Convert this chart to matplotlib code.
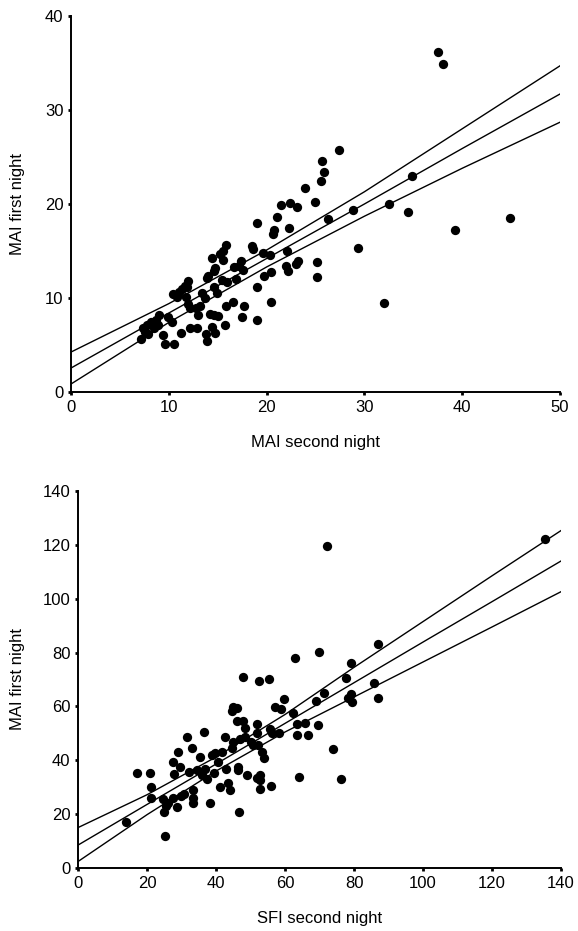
import matplotlib
matplotlib.use("Agg")
import matplotlib.pyplot as plt
import numpy as np

plt.rcParams['font.family'] = ['Liberation Sans', 'DejaVu Sans']

# ---------------- Top panel data (MAI) ----------------
top_x = [37.5, 38.0, 27.4, 25.7, 25.9, 25.6, 23.9, 24.9, 26.3, 28.8, 34.9, 32.5, 34.5, 44.9, 39.3,
         29.3, 25.2, 25.2, 32.0, 21.5, 22.4, 23.1, 21.1, 19.0, 20.8, 20.7, 22.3, 18.5, 18.6, 19.6,
         20.3, 22.1, 22.0, 22.2, 23.2, 23.0, 20.5, 19.7, 19.0, 20.5, 17.7, 17.5, 19.0, 15.8, 15.5,
         15.2, 15.5, 14.4, 17.4, 16.7, 17.6, 16.9, 16.0, 14.7, 14.6, 14.0, 13.9, 15.4, 14.6, 14.9,
         13.4, 13.7, 12.0, 11.9, 11.7, 11.3, 10.4, 10.8, 11.8, 12.0, 12.2, 12.8, 13.0, 13.2, 15.8,
         16.6, 14.2, 14.6, 15.0, 15.7, 14.4, 14.7, 13.8, 13.9, 12.2, 12.9, 11.2, 9.4, 9.6, 10.5,
         9.9, 10.3, 9.0, 8.7, 8.2, 7.8, 7.4, 7.6, 7.9, 7.2, 8.5, 8.9, 11.0, 17.2]
top_y = [36.2, 34.9, 25.7, 24.6, 23.4, 22.5, 21.7, 20.2, 18.4, 19.4, 23.0, 20.0, 19.1, 18.5, 17.2,
         15.3, 13.8, 12.2, 9.5, 19.9, 20.1, 19.7, 18.6, 18.0, 17.2, 16.8, 17.4, 15.5, 15.2, 14.8,
         14.6, 15.0, 13.4, 12.9, 13.9, 13.6, 12.8, 12.3, 11.2, 9.6, 9.1, 8.0, 7.7, 15.6, 15.0,
         14.7, 14.0, 14.3, 13.9, 13.3, 13.0, 12.0, 11.7, 13.2, 12.9, 12.3, 12.1, 11.9, 11.2, 10.5,
         10.5, 10.0, 11.8, 11.2, 11.3, 11.0, 10.4, 10.1, 10.1, 9.4, 8.9, 8.9, 8.2, 9.1, 9.1,
         9.6, 8.3, 8.2, 8.1, 7.1, 6.9, 6.3, 6.2, 5.4, 6.8, 6.8, 6.3, 6.1, 5.1, 5.1,
         8.0, 7.4, 8.2, 7.7, 7.4, 7.1, 6.8, 6.4, 6.2, 5.6, 6.8, 7.1, 10.6, 13.4]

# regression line and 95% band
top_fit_x = [0, 10, 20, 30, 40, 50]
top_fit_mid = [2.55, 8.4, 14.2, 20.0, 25.9, 31.7]
top_fit_hi = [4.25, 9.4, 15.1, 21.3, 28.0, 34.7]
top_fit_lo = [0.85, 7.4, 13.3, 18.7, 23.8, 28.7]

top_xticks = [0, 10, 20, 30, 40, 50]
top_yticks = [0, 10, 20, 30, 40]

# ---------------- Bottom panel data (SFI) ----------------
bot_x = [135.4, 72.3, 86.9, 69.8, 79.1, 77.8, 85.7, 71.2, 69.0, 79.1, 78.4, 79.5, 86.9, 63.6, 65.8,
         69.7, 63.6, 66.8, 74.0, 64.2, 76.2, 62.9, 13.9, 17.2, 20.9, 21.2, 21.1, 25.2, 24.7, 25.0,
         25.5, 26.2, 27.6, 28.8, 27.4, 27.8, 29.1, 29.6, 29.8, 30.7, 31.7, 32.1, 33.0, 33.2, 33.2,
         33.2, 34.4, 35.4, 35.8, 36.5, 36.8, 37.5, 38.3, 38.7, 39.4, 39.7, 40.7, 41.2, 41.6, 42.6,
         42.8, 43.6, 44.1, 44.5, 45.0, 46.2, 44.7, 45.0, 46.6, 46.5, 46.5, 46.2, 47.7, 47.9, 47.0,
         48.4, 48.9, 48.4, 50.1, 50.8, 52.0, 52.0, 52.3, 51.8, 52.8, 52.8, 52.8, 52.4, 55.3, 53.2,
         53.9, 55.7, 55.8, 56.1, 57.1, 58.4, 58.8, 59.7, 62.4]
bot_y = [122.0, 119.7, 83.1, 80.2, 76.0, 70.4, 68.6, 65.1, 62.1, 64.6, 63.0, 61.6, 63.0, 53.4, 53.7,
         53.1, 49.4, 49.4, 44.1, 33.9, 32.9, 77.9, 17.2, 35.2, 35.2, 30.2, 25.9, 12.0, 25.5, 20.9,
         23.0, 24.3, 25.9, 22.5, 39.5, 34.9, 43.2, 37.6, 26.7, 27.5, 48.5, 35.8, 44.4, 29.0, 25.9,
         24.3, 36.4, 41.1, 34.5, 50.6, 36.6, 33.0, 24.3, 42.0, 35.4, 42.6, 39.5, 30.2, 43.2, 48.8,
         36.6, 31.4, 29.0, 58.4, 59.7, 59.3, 44.4, 46.9, 20.9, 37.6, 36.4, 54.7, 54.7, 70.9, 47.8,
         51.9, 34.5, 48.5, 46.9, 45.7, 53.5, 50.0, 45.7, 33.3, 34.5, 32.7, 29.2, 69.6, 70.1, 43.2,
         40.7, 51.5, 30.4, 50.0, 59.9, 50.0, 58.9, 62.6, 57.4]

bot_fit_x = [0, 20, 40, 60, 80, 100, 120, 140]
bot_fit_mid = [8.5, 23.6, 38.6, 53.7, 68.8, 83.9, 98.9, 114.0]
bot_fit_hi = [15.0, 27.2, 41.2, 57.0, 74.5, 91.5, 108.5, 125.3]
bot_fit_lo = [2.4, 19.8, 36.0, 50.5, 63.5, 76.5, 89.5, 102.6]

bot_xticks = [0, 20, 40, 60, 80, 100, 120, 140]
bot_yticks = [0, 20, 40, 60, 80, 100, 120, 140]

W, H = 578, 931
fig = plt.figure(figsize=(W / 100, H / 100), dpi=100)


def style(ax, xlim, ylim, xt, yt, xlabel, ylabel, xl_y, yl_x):
    ax.set_xlim(*xlim)
    ax.set_ylim(*ylim)
    ax.set_xticks(xt)
    ax.set_yticks(yt)
    for s in ('top', 'right'):
        ax.spines[s].set_visible(False)
    for s in ('left', 'bottom'):
        ax.spines[s].set_linewidth(1.4)
        ax.spines[s].set_color('black')
    ax.tick_params(direction='out', length=2.5, width=2, labelsize=12, pad=3, colors='black')
    ax.set_xlabel(xlabel, fontsize=12)
    ax.set_ylabel(ylabel, fontsize=12)
    ax.xaxis.label.set_va('center')
    ax.yaxis.label.set_va('center')
    ax.xaxis.set_label_coords(0.5, xl_y)
    ax.yaxis.set_label_coords(yl_x, 0.5)


# top axes: x 71..560 px, y 16..392 px
ax1 = fig.add_axes([71 / W, 1 - 392 / H, 489 / W, 376 / H])
ax1.plot(top_fit_x, top_fit_mid, color='black', lw=1.0, zorder=2)
ax1.plot(top_fit_x, top_fit_hi, color='black', lw=1.0, zorder=2)
ax1.plot(top_fit_x, top_fit_lo, color='black', lw=1.0, zorder=2)
ax1.plot(top_x, top_y, 'o', color='black', markersize=6.7, markeredgewidth=0, zorder=3,
         clip_on=False)
style(ax1, (0, 50), (0, 40), top_xticks, top_yticks, 'MAI second night', 'MAI first night',
      (392 - 443) / 376, (18 - 71) / 489)

# bottom axes: x 78..561 px, y 491..868 px
ax2 = fig.add_axes([78 / W, 1 - 868 / H, 483 / W, 377 / H])
ax2.plot(bot_fit_x, bot_fit_mid, color='black', lw=1.0, zorder=2)
ax2.plot(bot_fit_x, bot_fit_hi, color='black', lw=1.0, zorder=2)
ax2.plot(bot_fit_x, bot_fit_lo, color='black', lw=1.0, zorder=2)
ax2.plot(bot_x, bot_y, 'o', color='black', markersize=6.7, markeredgewidth=0, zorder=3,
         clip_on=False)
style(ax2, (0, 140), (0, 140), bot_xticks, bot_yticks, 'SFI second night', 'MAI first night',
      (868 - 918) / 377, (18 - 78) / 483)

fig.savefig('out.png', dpi=100)
